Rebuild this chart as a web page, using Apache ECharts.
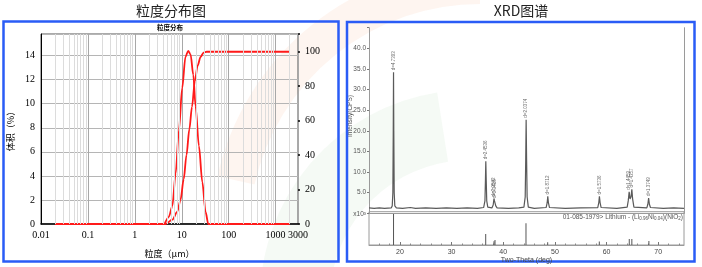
<!DOCTYPE html>
<html><head><meta charset="utf-8">
<script src="https://cdn.jsdelivr.net/npm/echarts@6/dist/echarts.min.js"></script>
<style>html,body{margin:0;padding:0;background:#fff}#c{width:702px;height:267px}</style>
</head><body><div id="c"></div>
<script>
// ---- Particle size distribution ----
const freqSize = [0.02, 4.15, 5.3, 6.3, 7.4, 8.7, 10.2, 12.0, 13.7, 15.4, 17.6, 19.7, 23.2, 27.4, 32.2, 36.7, 2000];
const freqPct  = [0, 0, 0.6, 1.5, 4.2, 7.8, 11.3, 13.9, 14.4, 14.1, 12.4, 9.8, 6.5, 3.5, 1.0, 0, 0];
const cumSize  = [0.02, 4.5, 6.3, 8.0, 9.4, 11.0, 12.6, 14.5, 16.5, 19.0, 21.8, 25.2, 29.2, 34, 2000];
const cumPct   = [0, 0, 2.5, 7, 14, 26, 40, 55, 68, 83, 92, 97, 99.5, 100, 100];
const minorGridSizes = [0.02,0.03,0.04,0.05,0.06,0.07,0.08,0.09,0.2,0.3,0.4,0.5,0.6,0.7,0.8,0.9,2,3,4,5,6,7,8,9,20,30,40,50,60,70,80,90,200,300,400,500,600,700,800,900,2000];

// ---- XRD pattern ----
const twoTheta = [14,15,16,17,18.3,18.5,18.62,18.7,18.75,18.8,18.88,19.0,19.3,20.5,22,23,25,27,29,31,33,35,36.2,36.45,36.55,36.62,36.7,36.8,37.0,37.8,38.05,38.2,38.3,38.4,38.55,38.8,41,43,44.0,44.25,44.35,44.43,44.52,44.62,44.85,46,48.3,48.5,48.62,48.75,48.95,52,55,58.3,58.5,58.62,58.75,58.95,62,64.0,64.2,64.38,64.55,64.75,64.9,65.05,65.3,67.8,68.0,68.15,68.3,68.5,71,73,75];
const intensity = [1.3,1.2,1.3,1.2,1.3,1.8,5,20,34.2,20,5,1.8,1.3,1.2,1.4,1.2,1.3,1.2,1.3,1.2,1.3,1.2,1.4,3,8,12.6,8,3,1.5,1.3,2,3.6,3,3.2,1.8,1.3,1.2,1.3,1.5,4,13,22.7,13,4,1.5,1.2,1.4,2.5,4.1,2.5,1.4,1.2,1.3,1.4,2.6,4.1,2.6,1.4,1.2,1.5,3,5.2,3.5,4,5.8,3.5,1.5,1.3,2.2,3.7,2.2,1.4,1.2,1.3,1.2];
const peakPos   = [18.75, 36.62, 38.2, 38.4, 44.43, 48.62, 58.62, 64.38, 64.9, 68.15];
const peakTop   = [34.2, 12.6, 3.6, 3.2, 22.7, 4.1, 4.1, 5.2, 5.8, 3.7];
const peakLabel = ['d=4.7393','d=2.4536','d=2.3542','d=2.3416','d=2.0374','d=1.8712','d=1.5736','d=1.4459','d=1.4357','d=1.3749'];
const refPos    = [18.75, 36.6, 38.2, 38.4, 44.4, 48.6, 58.6, 64.4, 64.9, 68.2];
const refRel    = [100, 35, 12, 16, 70, 9, 11, 19, 19, 13];
const xrdYTicks = [5,10,15,20,25,30,35,40];
const xrdXTicks = [20,30,40,50,60,70];
const xrdXMinor = [16,18,22,24,26,28,32,34,36,38,42,44,46,48,52,54,56,58,62,64,66,68,72,74];

const chart = echarts.init(document.getElementById('c'), null, {renderer:'canvas'});
const serifNum = '"Liberation Sans Narrow","Liberation Serif",serif';
const sans = '"Liberation Sans",Arial,sans-serif';

const option = {
  animation:false,
  backgroundColor:'#fff',
  grid:[
    {left:41, top:34, width:257, height:190, show:true, borderColor:'#555', borderWidth:1, backgroundColor:'transparent'},
    {left:369, top:27.7, width:315, height:185.6},
    {left:369, top:211.7, width:315, height:33.3, show:true, borderColor:'#9a9a9a', borderWidth:1, backgroundColor:'transparent'}
  ],
  xAxis:[
    {gridIndex:0, type:'log', logBase:10, min:0.01, max:3000,
     axisLine:{lineStyle:{color:'#000', width:1.5}}, axisTick:{show:false},
     axisLabel:{color:'#000', fontSize:10, fontFamily:serifNum, margin:6,
       formatter:v=> v<1 ? String(+v.toPrecision(2)) : String(Math.round(v))},
     splitLine:{show:true, lineStyle:{color:'#a8a8a8', width:1}},
     name:'粒度（μm）', nameLocation:'middle', nameGap:25,
     nameTextStyle:{color:'#000', fontSize:9, fontFamily:'"Noto Sans CJK SC",serif'}},
    {gridIndex:1, type:'value', min:14, max:75, position:'top',
     axisLine:{show:true, lineStyle:{color:'#9a9a9a'}}, axisTick:{show:false}, axisLabel:{show:false}, splitLine:{show:false}},
    {gridIndex:2, type:'value', min:14, max:75, position:'bottom',
     axisLine:{show:true, lineStyle:{color:'#9a9a9a'}},
     axisTick:{show:true, inside:true, length:3, customValues:xrdXTicks, lineStyle:{color:'#777'}},
     axisLabel:{color:'#444', fontSize:7, fontFamily:sans, margin:4, customValues:xrdXTicks},
     splitLine:{show:false},
     name:'Two-Theta (deg)', nameLocation:'middle', nameGap:11,
     nameTextStyle:{color:'#444', fontSize:7, fontFamily:sans}},
    {gridIndex:2, type:'value', min:14, max:75, position:'bottom',
     axisLine:{show:false},
     axisTick:{show:true, inside:true, length:1.5, customValues:xrdXMinor, lineStyle:{color:'#888'}},
     axisLabel:{show:false}, splitLine:{show:false}}
  ],
  yAxis:[
    {gridIndex:0, type:'value', min:0, max:15.8, interval:2,
     axisLine:{show:true, lineStyle:{color:'#000', width:1}}, axisTick:{show:false},
     axisLabel:{color:'#000', fontSize:10, fontFamily:serifNum, margin:6, formatter:v=> (Math.abs(v%2)<1e-6 && v<15) ? String(v) : ''},
     splitLine:{show:true, lineStyle:{color:'#b5b5b5', width:1}},
     name:'体积（%）', nameLocation:'middle', nameGap:26, nameRotate:90,
     nameTextStyle:{color:'#000', fontSize:9, fontFamily:'"Noto Sans CJK SC",serif'}},
    {gridIndex:0, type:'value', min:0, max:110.3, interval:20, position:'right',
     axisLine:{show:false}, axisTick:{show:true, length:2, lineStyle:{color:'#000', width:1.5}},
     axisLabel:{color:'#000', fontSize:10, fontFamily:serifNum, margin:7, formatter:v=> v<=100 ? String(v) : ''},
     splitLine:{show:false}},
    {gridIndex:1, type:'value', min:0, max:45, interval:5,
     axisLine:{show:true, lineStyle:{color:'#9a9a9a'}},
     axisTick:{show:true, length:2, lineStyle:{color:'#777'}},
     axisLabel:{color:'#555', fontSize:6.5, fontFamily:sans, margin:3, formatter:v=> xrdYTicks.indexOf(v)>=0 ? v.toFixed(1) : ''},
     splitLine:{show:false}},
    {gridIndex:1, type:'value', min:0, max:45, position:'right',
     axisLine:{show:true, lineStyle:{color:'#9a9a9a'}}, axisTick:{show:false}, axisLabel:{show:false}, splitLine:{show:false}},
    {gridIndex:2, type:'value', min:0, max:107,
     axisLine:{show:false}, axisTick:{show:false}, axisLabel:{show:false}, splitLine:{show:false}}
  ],
  series:[
    {type:'line', xAxisIndex:0, yAxisIndex:0, z:1, silent:true, symbol:'none',
     data:[[0.01,0]], lineStyle:{opacity:0},
     markLine:{silent:true, symbol:['none','none'], label:{show:false},
       lineStyle:{color:'#dcdcdc', type:'solid', width:1},
       data:minorGridSizes.map(v=>({xAxis:v}))}},
    {type:'line', xAxisIndex:0, yAxisIndex:0, z:3, symbol:'none', smooth:0.3, smoothMonotone:'x',
     data:freqSize.map((s,i)=>[s,freqPct[i]]), lineStyle:{color:'#ff1a1a', width:1.8}},
    {type:'line', xAxisIndex:0, yAxisIndex:1, z:3, symbol:'none', smooth:0.3, smoothMonotone:'x',
     data:cumSize.map((s,i)=>[s,cumPct[i]]), lineStyle:{color:'#ff1a1a', width:1.8}},
    {type:'line', xAxisIndex:1, yAxisIndex:2, symbol:'none',
     data:twoTheta.map((t,i)=>[t,intensity[i]]), lineStyle:{color:'#5a5a5a', width:1.2}},
    {type:'scatter', xAxisIndex:1, yAxisIndex:2, symbolSize:0,
     data:peakPos.map((p,i)=>({value:[p,peakTop[i]], name:peakLabel[i]})),
     label:{show:true, position:'top', distance:2, rotate:90, align:'left', verticalAlign:'middle',
       fontSize:4.5, color:'#444', fontFamily:sans, formatter:p=>p.name}},
    {type:'bar', xAxisIndex:2, yAxisIndex:4, barWidth:1, barMinWidth:1,
     data:refPos.map((p,i)=>[p,refRel[i]]), itemStyle:{color:'#555'}}
  ],
  graphic:[
    // faint background watermark
    {type:'arc', z:-10, shape:{cx:480, cy:235, r:250, startAngle:Math.PI*1.07, endAngle:Math.PI*1.5}, style:{stroke:'rgba(250,205,180,0.2)', lineWidth:38, fill:'none'}},
    {type:'arc', z:-10, shape:{cx:470, cy:300, r:175, startAngle:Math.PI*1.0, endAngle:Math.PI*1.45}, style:{stroke:'rgba(190,225,195,0.16)', lineWidth:70, fill:'none'}},
    // titles
    {type:'text', x:171, y:10.5, style:{text:'粒度分布图', fontSize:14, fontFamily:'"Noto Sans CJK SC",sans-serif', fill:'#222', align:'center', verticalAlign:'middle'}},
    {type:'text', x:521, y:10.5, style:{text:'XRD图谱', fontSize:14, fontFamily:'"Noto Sans CJK SC",sans-serif', fill:'#222', align:'center', verticalAlign:'middle'}},
    {type:'text', x:170, y:27.5, style:{text:'粒度分布', fontSize:6.5, fontWeight:'bold', fontFamily:'"Noto Sans CJK SC",sans-serif', fill:'#000', align:'center', verticalAlign:'middle'}},
    // XRD side texts
    {type:'text', x:350, y:116, rotation:Math.PI/2, style:{text:'Intensity(CPS)', fontSize:6.5, fontFamily:sans, fill:'#555', align:'center', verticalAlign:'middle'}},
    {type:'text', x:366, y:214.5, style:{text:'x10³', fontSize:6.5, fontFamily:sans, fill:'#555', align:'right', verticalAlign:'middle'}},
    {type:'text', x:683, y:217, style:{text:'01-085-1979> Lithium - (Li{s|0.96}Ni{s|0.04})(NiO{s|2})', fontSize:6.5, fontFamily:sans, fill:'#555', align:'right', verticalAlign:'middle',
      rich:{s:{fontSize:4.5, fontFamily:sans, fill:'#555', padding:[3,0,0,0]}}}},
    // panel borders
    {type:'rect', shape:{x:3.5, y:21.5, width:335, height:240}, style:{fill:'none', stroke:'#2a5cf6', lineWidth:2.5}},
    {type:'rect', shape:{x:347, y:22, width:347.5, height:239.5}, style:{fill:'none', stroke:'#2a5cf6', lineWidth:2.5}}
  ]
};
chart.setOption(option);
</script>
</body></html>
